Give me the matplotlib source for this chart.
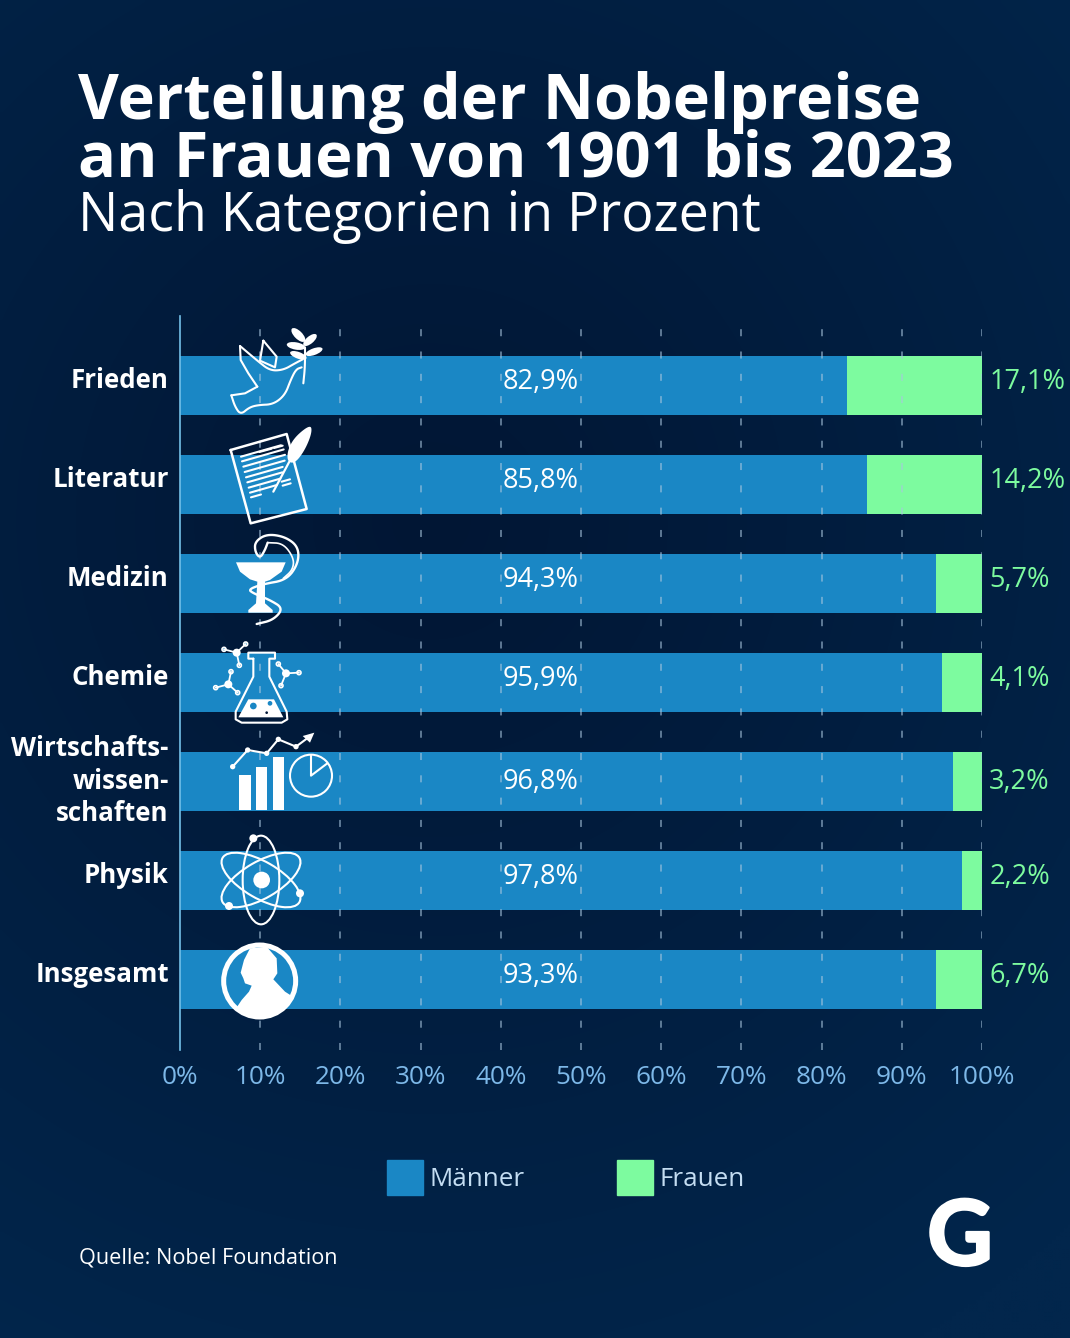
import numpy as np
import matplotlib
matplotlib.use('Agg')
import matplotlib.pyplot as plt
import matplotlib.patheffects as pe
from matplotlib.patches import Circle, Ellipse, Polygon, Rectangle

plt.rcParams['font.family'] = ['Open Sans', 'DejaVu Sans']

categories = ['Frieden', 'Literatur', 'Medizin', 'Chemie', 'Wirtschafts-\nwissen-\nschaften', 'Physik', 'Insgesamt']
men_labels = ['82,9%', '85,8%', '94,3%', '95,9%', '96,8%', '97,8%', '93,3%']
women_labels = ['17,1%', '14,2%', '5,7%', '4,1%', '3,2%', '2,2%', '6,7%']
# bar lengths as drawn in the picture, they differ a bit from the printed labels
men_bars = [83.2, 85.7, 94.3, 95.0, 96.4, 97.5, 94.3]
women_bars = [16.8, 14.3, 5.7, 5.0, 3.6, 2.5, 5.7]
x_ticks = [0, 10, 20, 30, 40, 50, 60, 70, 80, 90, 100]

BLUE = '#1a87c5'
GREEN = '#7dfb9f'
TICK = '#7db8e8'
W = 1070
H = 1338

fig = plt.figure(figsize=(W / 100, H / 100), dpi=100)

# background gradient
bg = fig.add_axes([0, 0, 1, 1], zorder=0)
yy, xx = np.mgrid[0:H:4, 0:W:4]
r = np.clip(np.hypot((xx - 430) / 950, (yy - 520) / 950), 0, 1)
c0 = np.array([1, 22, 52]) / 255
c1 = np.array([2, 38, 76]) / 255
bg.imshow(c0 + (c1 - c0) * r[..., None], extent=[0, W, H, 0], aspect='auto', interpolation='bilinear')
bg.axis('off')

# main chart
ax = fig.add_axes([180 / W, 1 - 1050 / H, 802 / W, 734 / H], zorder=1)
ax.patch.set_alpha(0)
y = np.arange(len(categories))
ax.barh(y, men_bars, height=59 / 99, color=BLUE, zorder=1)
ax.barh(y, women_bars, left=men_bars, height=59 / 99, color=GREEN, zorder=1)
ax.set_xlim(0, 100)
ax.set_ylim(6.717, -0.697)
ax.set_xticks(x_ticks)
ax.set_xticklabels([f'{t}%' for t in x_ticks], color=TICK, fontsize=18.8)
ax.tick_params(axis='x', length=0, pad=11)
ax.set_yticks([])
for s in ['top', 'right', 'bottom']:
    ax.spines[s].set_visible(False)
ax.spines['left'].set_color('#74c0e8')
ax.spines['left'].set_linewidth(1.2)
for t in x_ticks[1:]:
    ax.axvline(t, color='#a9c6de', alpha=0.7, lw=1.1, dashes=(4.6, 10), zorder=2)
for i in y:
    dy = 0.01 if i == 4 else -0.03
    ax.text(45, i + dy, men_labels[i], color='white', fontsize=19.5, ha='center', va='center', zorder=4)
    ax.text(100.9, i + dy, women_labels[i], color=GREEN, fontsize=19.5, ha='left', va='center', zorder=4, clip_on=False)
    ax.text(-1.4, i + (0.0 if i == 4 else -0.05), categories[i], color='white', fontsize=18.6, fontweight='bold',
            ha='right', va='center', linespacing=1.28, zorder=4, clip_on=False)

# overlay in pixel coordinates for titles, legend and icons
ov = fig.add_axes([0, 0, 1, 1], zorder=3)
ov.set_xlim(0, W)
ov.set_ylim(H, 0)
ov.axis('off')

ov.text(78, 103, 'Verteilung der Nobelpreise', color='white', fontsize=45.3, fontweight='bold', va='center')
ov.text(78, 160, 'an Frauen von 1901 bis 2023', color='white', fontsize=45.4, fontweight='bold', va='center')
ov.text(78, 217, 'Nach Kategorien in Prozent', color='white', fontsize=38.6, va='center')

ov.add_patch(Rectangle((387, 1160), 36, 35, color=BLUE))
ov.text(430, 1180, 'Männer', color='#c4ddf2', fontsize=18.7, va='center')
ov.add_patch(Rectangle((617, 1160), 36, 35, color=GREEN))
ov.text(660, 1180, 'Frauen', color='#c4ddf2', fontsize=18.7, va='center')
ov.text(79, 1258, 'Quelle: Nobel Foundation', color='white', fontsize=15.6, va='center')
ov.text(960, 1239, 'G', color='white', fontsize=65, fontweight='bold', family='Lato', ha='center', va='center',
        path_effects=[pe.withStroke(linewidth=2, foreground='white')])


def z(pts, oy):
    p = np.asarray(pts, dtype=float)
    return np.column_stack([170 + p[:, 0] / 3, oy + p[:, 1] / 3])


def smooth(p, n=3, closed=False):
    for _ in range(n):
        if closed:
            q = np.roll(p, -1, axis=0)
            p = np.column_stack([0.75 * p + 0.25 * q, 0.25 * p + 0.75 * q]).reshape(-1, 2)
        else:
            a, b = p[:-1], p[1:]
            mid = np.column_stack([0.75 * a + 0.25 * b, 0.25 * a + 0.75 * b]).reshape(-1, 2)
            p = np.vstack([p[0], mid, p[-1]])
    return p


def line(pts, oy, lw=1.5, curve=False, **kw):
    p = z(pts, oy)
    if curve:
        p = smooth(p)
    ov.plot(p[:, 0], p[:, 1], color='white', lw=lw, solid_capstyle='round', solid_joinstyle='round', **kw)


def fill(pts, oy, color='white', curve=False):
    p = z(pts, oy)
    if curve:
        p = smooth(p, closed=True)
    ov.add_patch(Polygon(p, closed=True, color=color, lw=0))


def dot(cx, cy, oy, r, face='white', lw=0.0):
    c = z([(cx, cy)], oy)[0]
    ov.add_patch(Circle(c, r / 3, facecolor=face, edgecolor='white', lw=lw))


def leaf(cx, cy, oy, length, width, angle):
    c = z([(cx, cy)], oy)[0]
    ov.add_patch(Ellipse(c, length / 3, width / 3, angle=angle, color='white', lw=0))


# dove
line([(210, 108), (212, 150), (235, 190), (262, 230)], 310)
line([(262, 230), (225, 250), (184, 256)], 310)
line([(184, 256), (195, 290), (212, 314), (238, 292), (265, 285), (310, 283), (345, 255), (362, 210), (378, 178), (395, 172)], 310, curve=True)
line([(210, 108), (262, 152), (300, 182), (340, 180), (375, 160), (398, 148)], 310, curve=True)
line([(280, 92), (270, 152), (315, 172), (320, 140), (280, 92)], 310)
line([(405, 112), (405, 170), (400, 220)], 310, curve=True)
leaf(385, 75, 310, 54, 24, 45)
leaf(420, 90, 310, 50, 22, -40)
leaf(378, 108, 310, 56, 22, 10)
leaf(432, 125, 310, 54, 20, -20)
leaf(385, 136, 310, 52, 20, 20)

# paper and quill
line([(182, 420), (350, 372), (410, 597), (242, 640), (182, 420)], 310, lw=1.8)
row_starts = [(213, 440), (216, 454), (220, 470), (224, 486), (228, 502), (232, 517), (236, 533), (240, 548), (243, 562)]
row_len = [120, 125, 125, 120, 110, 105, 95, 80, 30]
for (sx, sy), ln in zip(row_starts, row_len):
    line([(sx, sy), (sx + ln, sy - ln * 0.285)], 310, lw=1.5)
line([(268, 426), (305, 416)], 310, lw=1.5)
line([(312, 414), (338, 407)], 310, lw=1.5)
line([(335, 515), (360, 508)], 310, lw=1.5)
line([(338, 527), (362, 520)], 310, lw=1.5)
fill([(422, 343), (426, 368), (405, 420), (375, 460), (352, 455), (353, 420), (375, 380)], 310, curve=True)
line([(358, 455), (310, 545)], 310, lw=1.6)

# bowl of hygieia
fill([(198, 757), (347, 757), (335, 785), (300, 810), (285, 815), (285, 880), (308, 900), (308, 908), (235, 908), (235, 900), (258, 880), (262, 815), (240, 808), (210, 785)], 310)
line([(260, 942), (310, 930), (340, 895), (300, 870), (250, 850), (235, 838), (280, 822), (350, 810), (385, 760), (385, 710), (345, 680), (290, 672), (255, 695), (255, 725), (270, 745), (285, 720), (293, 698)], 310, lw=1.7, curve=True)
line([(293, 698), (340, 700), (372, 745), (368, 780), (340, 805)], 310, lw=1.2, curve=True)

# flask
line([(250, 86), (235, 86), (235, 68), (315, 68), (315, 86), (298, 86), (298, 140), (350, 245), (352, 268), (335, 278), (215, 278), (197, 268), (197, 245), (250, 140), (250, 86)], 630, lw=1.5)
fill([(235, 208), (312, 208), (340, 262), (205, 262)], 630)
dot(250, 228, 630, 10, BLUE)
dot(300, 220, 630, 7, BLUE)
dot(290, 248, 630, 4, '#021838')
for cx, cy, nodes in [(200, 68, [(162, 58), (227, 42), (208, 106)]),
                      (175, 163, [(137, 173), (183, 125), (203, 188)]),
                      (348, 130, [(325, 102), (387, 128), (333, 167)])]:
    for nx, ny in nodes:
        line([(cx, cy), (nx, ny)], 630, lw=1.3)
        dot(nx, ny, 630, 6, BLUE, lw=1.2)
    dot(cx, cy, 630, 12)

# economics chart
for bx, by in [(208, 435), (258, 410), (308, 380)]:
    fill([(bx, by), (bx + 34, by), (bx + 34, 540), (bx, 540)], 630)
line([(188, 410), (233, 360), (290, 370), (325, 328), (378, 350), (425, 315)], 630, lw=1.5)
for px, py in [(188, 410), (233, 360), (290, 370), (325, 328), (378, 350)]:
    dot(px, py, 630, 8)
fill([(433, 308), (398, 318), (420, 338)], 630)
ov.add_patch(Circle(z([(423, 437)], 630)[0], 63 / 3, fill=False, edgecolor='white', lw=1.5))
line([(423, 375), (423, 437), (472, 400)], 630, lw=1.5)

# atom
for ang in [0, 60, -60]:
    c = z([(273, 750)], 630)[0]
    ov.add_patch(Ellipse(c, 110 / 3, 266 / 3, angle=ang, fill=False, edgecolor='white', lw=1.5))
dot(275, 750, 630, 25)
dot(250, 625, 630, 12)
dot(390, 790, 630, 12)
dot(177, 828, 630, 12)

# medal
c = z([(269, 1053)], 630)[0]
disc = Circle(c, 108 / 3, facecolor=BLUE, edgecolor='white', lw=3.6)
ov.add_patch(disc)
p = z([(240, 955), (290, 950), (320, 985), (322, 1030), (310, 1048), (345, 1085), (400, 1120), (380, 1180), (200, 1180), (195, 1140),
       (215, 1110), (237, 1085), (245, 1067), (225, 1060), (220, 1045), (212, 1028), (222, 990)], 630)
bust = Polygon(p, closed=True, color='white', lw=0)
ov.add_patch(bust)
bust.set_clip_path(Circle(c, 108 / 3, transform=ov.transData))

fig.savefig('out.png', dpi=100)
